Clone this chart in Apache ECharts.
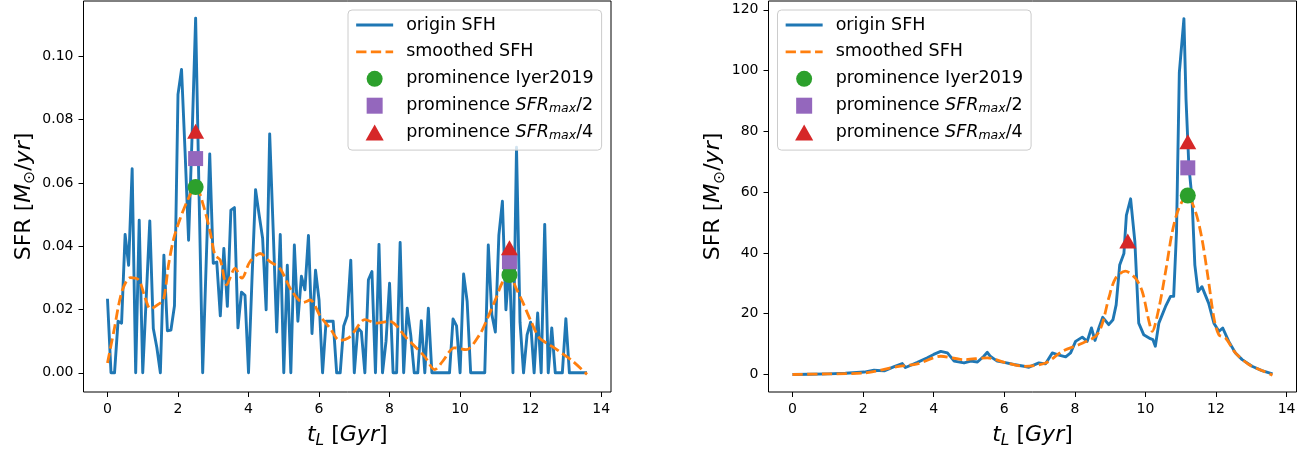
<!DOCTYPE html>
<html>
<head>
<meta charset="utf-8">
<script src="https://cdn.jsdelivr.net/npm/echarts@6/dist/echarts.min.js"></script>
<style>
  html, body { margin: 0; padding: 0; background: #fff; }
  #chart { width: 1316px; height: 454px; }
</style>
</head>
<body>
<div id="chart"></div>
<script>
// ---- Left galaxy: bursty star-formation history (Gyr, Msun/yr) ----
const leftAge = [
  0.0, 0.1, 0.2, 0.3, 0.4, 0.5, 0.6, 0.7, 0.8, 0.9,
  1.0, 1.1, 1.2, 1.3, 1.4, 1.5, 1.6, 1.7, 1.8, 1.9,
  2.0, 2.1, 2.2, 2.3, 2.4, 2.5, 2.6, 2.7, 2.8, 2.9,
  3.0, 3.1, 3.2, 3.3, 3.4, 3.5, 3.6, 3.7, 3.8, 3.9,
  4.0, 4.1, 4.2, 4.3, 4.4, 4.5, 4.6, 4.7, 4.8, 4.9,
  5.0, 5.1, 5.2, 5.3, 5.4, 5.5, 5.6, 5.7, 5.8, 5.9,
  6.0, 6.1, 6.2, 6.3, 6.4, 6.5, 6.6, 6.7, 6.8, 6.9,
  7.0, 7.1, 7.2, 7.3, 7.4, 7.5, 7.6, 7.7, 7.8, 7.9,
  8.0, 8.1, 8.2, 8.3, 8.4, 8.5, 8.6, 8.7, 8.8, 8.9,
  9.0, 9.1, 9.2, 9.3, 9.4, 9.5, 9.6, 9.7, 9.8, 9.9,
  10.0, 10.1, 10.2, 10.3, 10.4, 10.5, 10.6, 10.7, 10.8, 10.9,
  11.0, 11.1, 11.2, 11.3, 11.4, 11.5, 11.6, 11.7, 11.8, 11.9,
  12.0, 12.1, 12.2, 12.3, 12.4, 12.5, 12.6, 12.7, 12.8, 12.9,
  13.0, 13.1, 13.2, 13.3, 13.4, 13.5, 13.6
];
const leftSfr = [
  0.0234, 0, 0, 0.0163, 0.0157, 0.0437, 0.034, 0.0645, 0, 0.0482,
  0, 0.024, 0.048, 0.014, 0.008, 0, 0.0372, 0.0133, 0.0135, 0.0212,
  0.088, 0.0959, 0.07, 0.0419, 0.075, 0.1121, 0.055, 0, 0.035, 0.0692,
  0.0346, 0.035, 0.018, 0.0393, 0.021, 0.0514, 0.0522, 0.0142, 0.0255, 0.0245,
  0, 0.03, 0.0579, 0.05, 0.0425, 0.0199, 0.0755, 0.045, 0.0129, 0.0437,
  0, 0.034, 0, 0.0404, 0.0163, 0.0305, 0.0262, 0.0434, 0.0124, 0.0324,
  0.023, 0, 0.0163, 0.0163, 0.0163, 0, 0, 0.0148, 0.018, 0.0356,
  0, 0.0142, 0.013, 0, 0.0294, 0.032, 0, 0.0406, 0, 0.01,
  0.0283, 0, 0, 0.0412, 0, 0.0204, 0.012, 0, 0, 0.0165,
  0, 0.0204, 0, 0, 0, 0, 0, 0, 0.017, 0.0148,
  0, 0.0312, 0.0226, 0, 0, 0, 0, 0, 0.0404, 0.0184,
  0.0129, 0.0435, 0.0542, 0.0199, 0.035, 0, 0.0713, 0.016, 0, 0.012,
  0.016, 0, 0.0189, 0, 0.0469, 0, 0.0142, 0, 0, 0,
  0.0171, 0, 0, 0, 0, 0, 0
];
const leftSmoothAge = [
  0.0, 0.18, 0.41, 0.65, 0.89, 1.07, 1.22, 1.45, 1.59, 1.73, 1.88, 2.06, 2.25, 2.44, 2.52,
  2.72, 2.91, 3.05, 3.2, 3.38, 3.62, 3.81, 4.04, 4.33, 4.61, 4.89, 5.22, 5.55, 5.75, 6.03,
  6.31, 6.59, 6.83, 6.97, 7.3, 7.63, 8.0, 8.48, 8.99, 9.28, 9.51, 9.84, 10.17, 10.55, 10.78,
  11.02, 11.21, 11.4, 11.59, 11.77, 12.01, 12.25, 12.53, 12.81, 13.19, 13.6
];
const leftSmoothSfr = [
  0.0031, 0.0131, 0.0257, 0.0301, 0.0293, 0.0236, 0.0202, 0.0217, 0.0231, 0.034, 0.0425, 0.0487, 0.054, 0.0582, 0.0585,
  0.0529, 0.0446, 0.0372, 0.0356, 0.0278, 0.033, 0.0299, 0.0351, 0.0377, 0.0351, 0.0330, 0.0260, 0.0222, 0.0230, 0.0180,
  0.0141, 0.0102, 0.011, 0.0126, 0.0168, 0.0157, 0.0163, 0.011, 0.0052, 0.001, 0.0037, 0.0079, 0.0073, 0.012, 0.0173,
  0.0236, 0.0288, 0.0309, 0.0267, 0.0225, 0.0163, 0.011, 0.0089, 0.0068, 0.0037, -0.0005
];
const leftIyerAge = [2.5, 11.4];
const leftIyerSfr = [0.0587, 0.0309];
const leftHalfAge = [2.5, 11.4];
const leftHalfSfr = [0.0677, 0.0351];
const leftQuarterAge = [2.5, 11.4];
const leftQuarterSfr = [0.0763, 0.0395];

// ---- Right galaxy: smooth double-peaked history ----
const rightAge = [
  0.0, 0.5, 1.0, 1.5, 2.03, 2.31, 2.6, 2.88, 3.11, 3.2, 3.54, 3.82, 4.0, 4.2, 4.39,
  4.58, 4.86, 5.05, 5.24, 5.42, 5.52, 5.61, 5.8, 6.0, 6.27, 6.56, 6.7, 6.98, 7.17, 7.36,
  7.55, 7.74, 7.88, 8.02, 8.21, 8.35, 8.47, 8.57, 8.68, 8.79, 8.96, 9.08, 9.17, 9.27, 9.39,
  9.46, 9.58, 9.7, 9.81, 9.95, 10.14, 10.21, 10.28, 10.38, 10.57, 10.71, 10.8, 10.88, 10.96, 11.09,
  11.15, 11.23, 11.32, 11.4, 11.49, 11.6, 11.79, 11.94, 12.08, 12.19, 12.36, 12.55, 12.74, 13.02, 13.3,
  13.6
];
const rightSfr = [
  0.0, 0.1, 0.2, 0.4, 0.8, 1.4, 1.2, 2.6, 3.6, 2.3, 4.0, 5.5, 6.6, 7.6, 7.1,
  4.4, 3.8, 4.4, 4.1, 6.0, 7.3, 5.9, 4.4, 4.0, 3.3, 2.7, 2.4, 3.8, 3.5, 7.1,
  6.4, 5.8, 7.1, 10.9, 12.3, 10.9, 15.3, 11.2, 15.3, 18.8, 16.4, 18.0, 22.9, 36.0, 39.8,
  52.4, 57.8, 43.7, 16.9, 13.1, 11.8, 11.5, 9.3, 16.9, 22.4, 25.7, 25.7, 46.9, 99.3, 117.1,
  90.5, 68.7, 57.8, 36.0, 27.3, 28.9, 23.5, 16.9, 14.2, 15.3, 10.9, 7.1, 4.9, 2.7, 1.3,
  0.2
];
const rightSmoothAge = [
  0.0, 1.0, 2.03, 2.97, 3.54, 4.2, 4.86, 5.52, 6.0, 6.56, 7.17, 7.64, 8.11, 8.59, 8.77,
  8.96, 9.15, 9.43, 9.72, 9.91, 10.1, 10.19, 10.38, 10.57, 10.76, 10.94, 11.18, 11.42, 11.6, 11.79,
  11.94, 12.08, 12.27, 12.55, 12.93, 13.3, 13.6
];
const rightSmoothSfr = [
  0.0, 0.2, 0.5, 2.6, 3.5, 6.0, 4.9, 5.5, 4.0, 2.7, 3.8, 7.6, 9.8, 12.6, 16.4,
  25.1, 31.6, 34.0, 31.6, 27.3, 17.5, 14.2, 21.8, 33.8, 46.9, 54.5, 58.9, 53.5, 44.7, 30.6,
  18.6, 13.1, 12.0, 7.1, 3.3, 1.3, -0.2
];
const rightIyerAge = [11.2];
const rightIyerSfr = [58.9];
const rightHalfAge = [11.2];
const rightHalfSfr = [68.0];
const rightQuarterAge = [9.5, 11.2];
const rightQuarterSfr = [43.9, 76.6];

// ---- Tick labels ----
const ageTicks = [0, 2, 4, 6, 8, 10, 12, 14];
const leftSfrTicks = [0, 0.02, 0.04, 0.06, 0.08, 0.10];
const rightSfrTicks = [0, 20, 40, 60, 80, 100, 120];

const FONT = 'DejaVu Sans';
const C = { blue: '#1f77b4', orange: '#ff7f0e', green: '#2ca02c', purple: '#9467bd', red: '#d62728' };
const pairs = (xs, ys) => xs.map((x, i) => [x, ys[i]]);

const nameRich = {
  r: { fontFamily: FONT, fontSize: 22, lineHeight: 28, color: '#000' },
  i: { fontFamily: FONT, fontSize: 22, lineHeight: 28, color: '#000', fontStyle: 'italic' },
  si: { fontFamily: FONT, fontSize: 15.5, lineHeight: 13, verticalAlign: 'bottom', color: '#000', fontStyle: 'italic' },
  su: { fontFamily: FONT, fontSize: 15.5, lineHeight: 13, verticalAlign: 'bottom', color: '#000' }
};

function xAxis(gridIndex) {
  return {
    type: 'value', gridIndex, min: -0.68, max: 14.28,
    name: '{i|t}{si|L}{r| [}{i|Gyr}{r|]}', nameLocation: 'middle', nameGap: 29,
    nameTextStyle: { fontFamily: FONT, fontSize: 22, color: '#000', rich: nameRich },
    axisLine: { show: false, onZero: false },
    splitLine: { show: false },
    axisTick: { show: true, inside: false, length: 5, customValues: ageTicks, lineStyle: { color: '#000', width: 1 } },
    axisLabel: { show: true, customValues: ageTicks, margin: 10, fontFamily: FONT, fontSize: 14, color: '#000' }
  };
}
function yAxis(gridIndex, min, max, ticks, fmt, gap) {
  return {
    type: 'value', gridIndex, min, max,
    name: '{r|SFR [}{i|M}{su|⊙}{r|/}{i|yr}{r|]}', nameLocation: 'middle', nameRotate: 90, nameGap: gap,
    nameTextStyle: { fontFamily: FONT, fontSize: 22, color: '#000', rich: nameRich },
    axisLine: { show: false, onZero: false },
    splitLine: { show: false },
    axisTick: { show: true, inside: false, length: 5, customValues: ticks, lineStyle: { color: '#000', width: 1 } },
    axisLabel: { show: true, customValues: ticks, margin: 10, fontFamily: FONT, fontSize: 14, color: '#000', formatter: fmt }
  };
}

// Legend handles: plain strokes for the two curves, marker shapes for the peaks
const hiddenDot = { color: 'rgba(0,0,0,0)', borderColor: 'rgba(0,0,0,0)', borderWidth: 0 };
const legendItems = [
  { name: 'origin SFH', itemStyle: hiddenDot },
  { name: 'smoothed SFH', itemStyle: hiddenDot },
  { name: 'prominence Iyer2019', icon: 'circle' },
  { name: 'prominence SFRmax/2', icon: 'path://M0,0H16V16H0Z' },
  { name: 'prominence SFRmax/4', icon: 'path://M8.5,0L17,15H0Z' }
];
const legendText = {
  'prominence SFRmax/2': 'prominence {i|SFR}{sub|max}/2',
  'prominence SFRmax/4': 'prominence {i|SFR}{sub|max}/4'
};
function legend(left) {
  return {
    show: true, orient: 'vertical', left, top: 10,
    data: legendItems, selectedMode: false,
    itemWidth: 37, itemHeight: 16, itemGap: 6.9,
    padding: [5, 8, 7.5, 6.7],
    backgroundColor: 'rgba(255,255,255,0.8)', borderColor: '#cccccc', borderWidth: 1, borderRadius: 4,
    symbolKeepAspect: true,
    lineStyle: { width: 2.9 },
    formatter: n => legendText[n] || n,
    textStyle: {
      fontFamily: FONT, fontSize: 17.5, lineHeight: 20, color: '#000', padding: [0, 0, 0, 8],
      rich: {
        i: { fontFamily: FONT, fontSize: 17.5, lineHeight: 20, fontStyle: 'italic', color: '#000' },
        sub: { fontFamily: FONT, fontSize: 12.5, lineHeight: 9.4, verticalAlign: 'bottom', fontStyle: 'italic', color: '#000' }
      }
    }
  };
}

function panelSeries(idx, age, sfr, sAge, sSfr, iA, iV, hA, hV, qA, qV) {
  return [
    { name: 'origin SFH', type: 'line', xAxisIndex: idx, yAxisIndex: idx, data: pairs(age, sfr),
      symbol: 'none', showSymbol: false, z: 2,
      lineStyle: { color: C.blue, width: 2.9, join: 'round' }, itemStyle: { color: C.blue } },
    { name: 'smoothed SFH', type: 'line', xAxisIndex: idx, yAxisIndex: idx, data: pairs(sAge, sSfr),
      symbol: 'none', showSymbol: false, smooth: 0.3, z: 3,
      lineStyle: { color: C.orange, width: 2.8, type: [10.3, 4.4] }, itemStyle: { color: C.orange } },
    { name: 'prominence Iyer2019', type: 'scatter', xAxisIndex: idx, yAxisIndex: idx, data: pairs(iA, iV),
      symbol: 'circle', symbolSize: 16, z: 4, itemStyle: { color: C.green, opacity: 1 } },
    { name: 'prominence SFRmax/2', type: 'scatter', xAxisIndex: idx, yAxisIndex: idx, data: pairs(hA, hV),
      symbol: 'rect', symbolSize: 15, z: 4, itemStyle: { color: C.purple, opacity: 1 } },
    { name: 'prominence SFRmax/4', type: 'scatter', xAxisIndex: idx, yAxisIndex: idx, data: pairs(qA, qV),
      symbol: 'triangle', symbolSize: [17, 15], z: 4, itemStyle: { color: C.red, opacity: 1 } }
  ];
}

const chart = echarts.init(document.getElementById('chart'), null, { renderer: 'canvas' });
chart.setOption({
  animation: false,
  backgroundColor: '#fff',
  grid: [
    { left: 83.5, top: 1, width: 527.5, height: 393.3, show: true, borderColor: '#000', borderWidth: 1, backgroundColor: 'transparent' },
    { left: 768.5, top: 1, width: 528, height: 393.3, show: true, borderColor: '#000', borderWidth: 1, backgroundColor: 'transparent' }
  ],
  xAxis: [xAxis(0), xAxis(1)],
  yAxis: [
    yAxis(0, -0.00607, 0.1175, leftSfrTicks, v => v.toFixed(2), 44),
    yAxis(1, -5.76, 122.9, rightSfrTicks, v => String(Math.round(v)), 41)
  ],
  legend: [legend(348), legend(777.5)],
  series: [
    ...panelSeries(0, leftAge, leftSfr, leftSmoothAge, leftSmoothSfr,
      leftIyerAge, leftIyerSfr, leftHalfAge, leftHalfSfr, leftQuarterAge, leftQuarterSfr),
    ...panelSeries(1, rightAge, rightSfr, rightSmoothAge, rightSmoothSfr,
      rightIyerAge, rightIyerSfr, rightHalfAge, rightHalfSfr, rightQuarterAge, rightQuarterSfr)
  ]
});
</script>
</body>
</html>
